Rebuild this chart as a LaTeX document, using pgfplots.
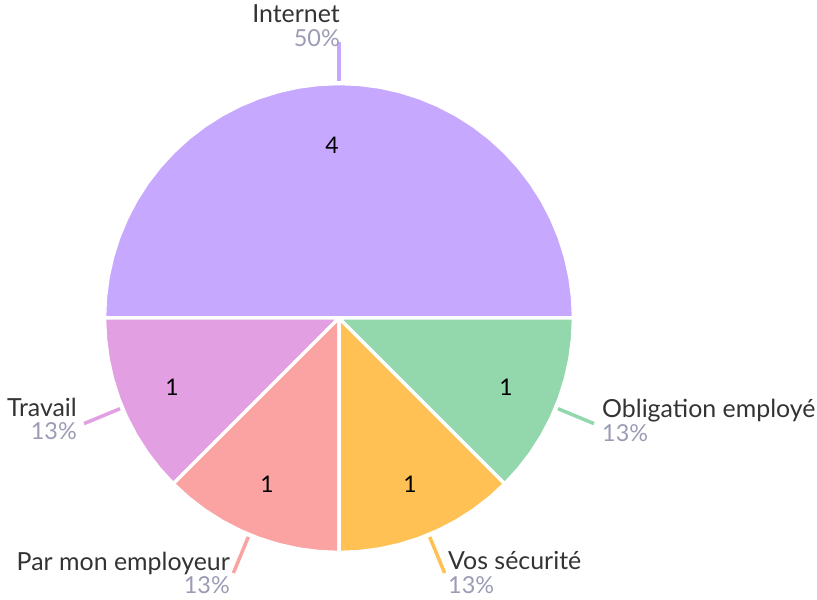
\documentclass[border=0pt]{standalone}
\usepackage{pgfplots}
\pgfplotsset{compat=1.18}
\usepackage{fontspec}
\setmainfont{Lato}
\definecolor{cInt}{RGB}{199,168,255}
\definecolor{cObl}{RGB}{147,216,173}
\definecolor{cVos}{RGB}{255,193,83}
\definecolor{cPar}{RGB}{251,163,163}
\definecolor{cTra}{RGB}{226,160,226}
\definecolor{cTxt}{RGB}{51,51,51}
\definecolor{cPct}{RGB}{155,155,182}
\newcommand{\nm}{\fontsize{25}{28}\selectfont\color{cTxt}}
\newcommand{\pc}{\fontsize{23.5}{26}\selectfont\color{cPct}}
\newcommand{\vl}{\fontsize{23}{26}\selectfont\color{black}}
\begin{document}
\begin{tikzpicture}
\begin{axis}[hide axis, x=1bp, y=1bp, xmin=-339, xmax=478, ymin=-282, ymax=318,
  clip=false, scale only axis]
\path (axis cs:-339,-282) rectangle (axis cs:478,318);
% Internet 4 (50%)
\addplot[fill=cInt, draw=white, line width=3.5bp, line join=round, data cs=polar] coordinates {
(0,0) (0,234.5) (5,234.5) (10,234.5) (15,234.5) (20,234.5) (25,234.5) (30,234.5) (35,234.5)
(40,234.5) (45,234.5) (50,234.5) (55,234.5) (60,234.5) (65,234.5) (70,234.5) (75,234.5)
(80,234.5) (85,234.5) (90,234.5) (95,234.5) (100,234.5) (105,234.5) (110,234.5) (115,234.5)
(120,234.5) (125,234.5) (130,234.5) (135,234.5) (140,234.5) (145,234.5) (150,234.5)
(155,234.5) (160,234.5) (165,234.5) (170,234.5) (175,234.5) (180,234.5)} -- cycle;
% Travail 1
\addplot[fill=cTra, draw=white, line width=3.5bp, line join=round, data cs=polar] coordinates {
(0,0) (180,234.5) (185,234.5) (190,234.5) (195,234.5) (200,234.5) (205,234.5) (210,234.5)
(215,234.5) (220,234.5) (225,234.5)} -- cycle;
% Par mon employeur 1
\addplot[fill=cPar, draw=white, line width=3.5bp, line join=round, data cs=polar] coordinates {
(0,0) (225,234.5) (230,234.5) (235,234.5) (240,234.5) (245,234.5) (250,234.5) (255,234.5)
(260,234.5) (265,234.5) (270,234.5)} -- cycle;
% Vos securite 1
\addplot[fill=cVos, draw=white, line width=3.5bp, line join=round, data cs=polar] coordinates {
(0,0) (270,234.5) (275,234.5) (280,234.5) (285,234.5) (290,234.5) (295,234.5) (300,234.5)
(305,234.5) (310,234.5) (315,234.5)} -- cycle;
% Obligation employe 1
\addplot[fill=cObl, draw=white, line width=3.5bp, line join=round, data cs=polar] coordinates {
(0,0) (315,234.5) (320,234.5) (325,234.5) (330,234.5) (335,234.5) (340,234.5) (345,234.5)
(350,234.5) (355,234.5) (360,234.5)} -- cycle;
% leader lines
\addplot[cInt, line width=3.5bp, data cs=polar] coordinates {(90,237) (90,276)};
\addplot[cTra, line width=3.5bp, data cs=polar] coordinates {(202.5,237) (202.5,276)};
\addplot[cPar, line width=3.5bp, data cs=polar] coordinates {(247.5,237) (247.5,276)};
\addplot[cVos, line width=3.5bp, data cs=polar] coordinates {(292.5,237) (292.5,276)};
\addplot[cObl, line width=3.5bp, data cs=polar] coordinates {(337.5,237) (337.5,276)};
% values
\node[inner sep=0pt] at (axis cs:-7,173) {\vl 4};
\node[inner sep=0pt] at (axis cs:-167,-69) {\vl 1};
\node[inner sep=0pt] at (axis cs:-72,-166) {\vl 1};
\node[inner sep=0pt] at (axis cs:71,-166) {\vl 1};
\node[inner sep=0pt] at (axis cs:167,-69) {\vl 1};
% labels
\node[inner sep=0pt, anchor=base east] at (axis cs:1,295) {\nm Internet};
\node[inner sep=0pt, anchor=base east] at (axis cs:1,271) {\pc 50\%};
\node[inner sep=0pt, anchor=base west] at (axis cs:263,-100) {\nm Obligation employé};
\node[inner sep=0pt, anchor=base west] at (axis cs:263,-124) {\pc 13\%};
\node[inner sep=0pt, anchor=base east] at (axis cs:-262,-99) {\nm Travail};
\node[inner sep=0pt, anchor=base east] at (axis cs:-262,-122) {\pc 13\%};
\node[inner sep=0pt, anchor=base east] at (axis cs:-109,-253) {\nm Par mon employeur};
\node[inner sep=0pt, anchor=base east] at (axis cs:-109,-276) {\pc 13\%};
\node[inner sep=0pt, anchor=base west] at (axis cs:109,-252) {\nm Vos sécurité};
\node[inner sep=0pt, anchor=base west] at (axis cs:109,-276) {\pc 13\%};
\end{axis}
\end{tikzpicture}
\end{document}
